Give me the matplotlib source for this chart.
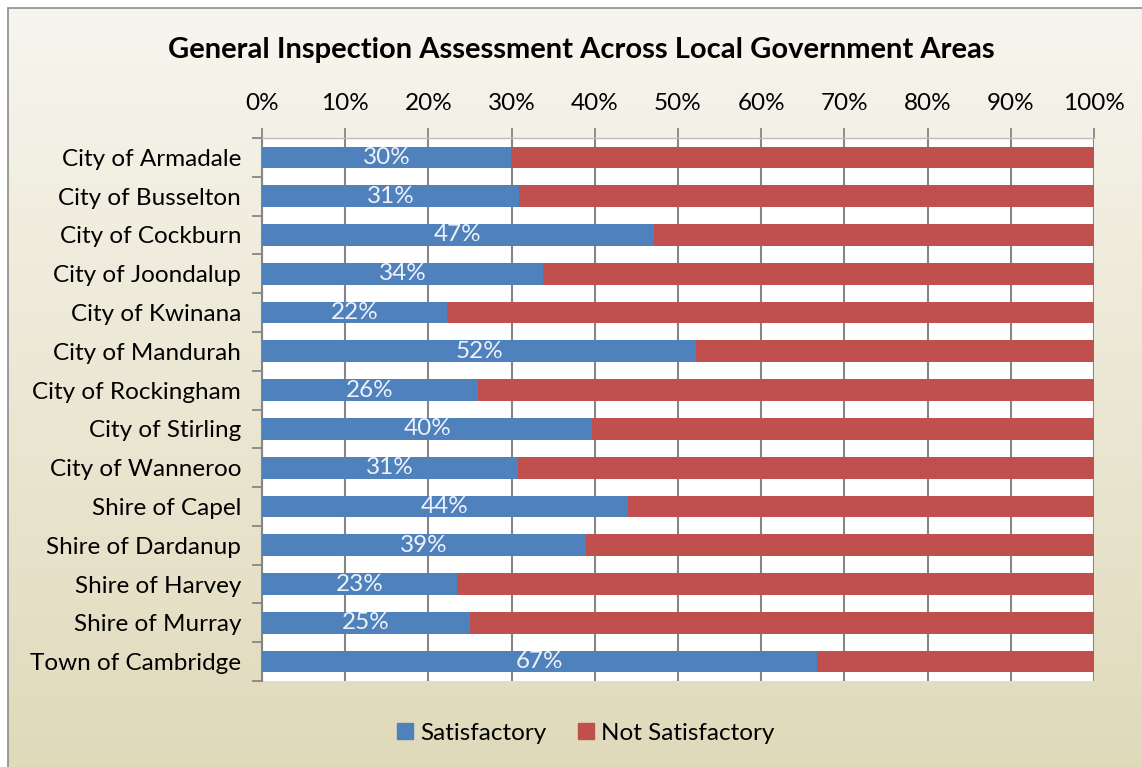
import numpy as np
import matplotlib.pyplot as plt
from matplotlib.patches import Rectangle
from matplotlib.ticker import PercentFormatter, FixedLocator

plt.rcParams['font.family'] = ['Lato', 'DejaVu Sans']

areas = ["City of Armadale", "City of Busselton", "City of Cockburn", "City of Joondalup",
         "City of Kwinana", "City of Mandurah", "City of Rockingham", "City of Stirling",
         "City of Wanneroo", "Shire of Capel", "Shire of Dardanup", "Shire of Harvey",
         "Shire of Murray", "Town of Cambridge"]
satisfactory = [29.9, 30.9, 47.1, 33.8, 22.2, 52.2, 26.0, 39.7, 30.8, 44.0, 38.9, 23.4, 25.0, 66.7]
not_satisfactory = [100 - v for v in satisfactory]

blue = '#4f81bd'
red = '#c0504d'

fig = plt.figure(figsize=(11.42, 7.67), dpi=100)
fig.patch.set_facecolor('white')

# gradient background inside the chart border
bg = fig.add_axes([8 / 1142, 0, 1 - 8 / 1142, 1 - 8 / 767], zorder=-10)
grad = np.linspace(0, 1, 256).reshape(-1, 1)
c_top = np.array([0xf7, 0xf5, 0xee]) / 255
c_bot = np.array([0xe0, 0xda, 0xbb]) / 255
img = c_top[None, None, :] * (1 - grad[:, :, None]) + c_bot[None, None, :] * grad[:, :, None]
bg.imshow(img, aspect='auto', extent=[0, 1, 0, 1], origin='upper')
bg.set_xlim(0, 1)
bg.set_ylim(0, 1)
bg.axis('off')
fig.patches.append(Rectangle((7.5 / 1142, -0.01), 1.02, 1 - 7.5 / 767 + 0.01, transform=fig.transFigure,
                             fill=False, edgecolor='#8c8c8c', linewidth=1.2, zorder=5))

ax = fig.add_axes([262 / 1142, 1 - 681 / 767, (1094 - 262) / 1142, (681 - 138) / 767])
ax.set_facecolor('white')

y = np.arange(len(areas))
h = 0.56
ax.barh(y, satisfactory, height=h, color=blue, zorder=3)
ax.barh(y, not_satisfactory, left=satisfactory, height=h, color=red, zorder=3)

for yi, v in zip(y, satisfactory):
    ax.text(v / 2, yi, f"{round(v):.0f}%", ha='center', va='center', fontsize=17.5,
            color='#eef2f8', zorder=4)

ax.set_xlim(0, 100)
ax.set_ylim(len(areas) - 0.5, -0.5)
ax.xaxis.tick_top()
ax.set_xticks(np.arange(0, 101, 10))
ax.xaxis.set_major_formatter(PercentFormatter(decimals=0))
ax.tick_params(axis='x', length=7, width=1.3, color='#868686', labelsize=17.5, pad=10)
ax.grid(axis='x', color='#868686', linewidth=1.5, zorder=1)

ax.set_yticks(y)
ax.set_yticklabels(areas)
ax.yaxis.set_minor_locator(FixedLocator(np.arange(-0.5, len(areas), 1)))
ax.tick_params(axis='y', which='major', length=0, labelsize=17.5, pad=15)
ax.tick_params(axis='y', which='minor', length=7, width=1.3, color='#868686')

for s in ['right', 'bottom']:
    ax.spines[s].set_visible(False)
ax.spines['left'].set_color('#868686')
ax.spines['left'].set_linewidth(1.5)
ax.spines['top'].set_color('#bdbdbd')
ax.spines['top'].set_linewidth(1.0)

fig.text(581 / 1142, 1 - 50 / 767, "General Inspection Assessment Across Local Government Areas",
         ha='center', va='center', fontsize=21, fontweight='bold')

handles = [Rectangle((0, 0), 1, 1, color=blue), Rectangle((0, 0), 1, 1, color=red)]
fig.legend(handles, ["Satisfactory", "Not Satisfactory"], loc='center',
           bbox_to_anchor=(586 / 1142, 1 - 733 / 767), ncol=2, frameon=False, fontsize=17.5,
           handlelength=0.65, handleheight=0.65, handletextpad=0.3, columnspacing=1.3)

fig.savefig('out.png', dpi=100)
